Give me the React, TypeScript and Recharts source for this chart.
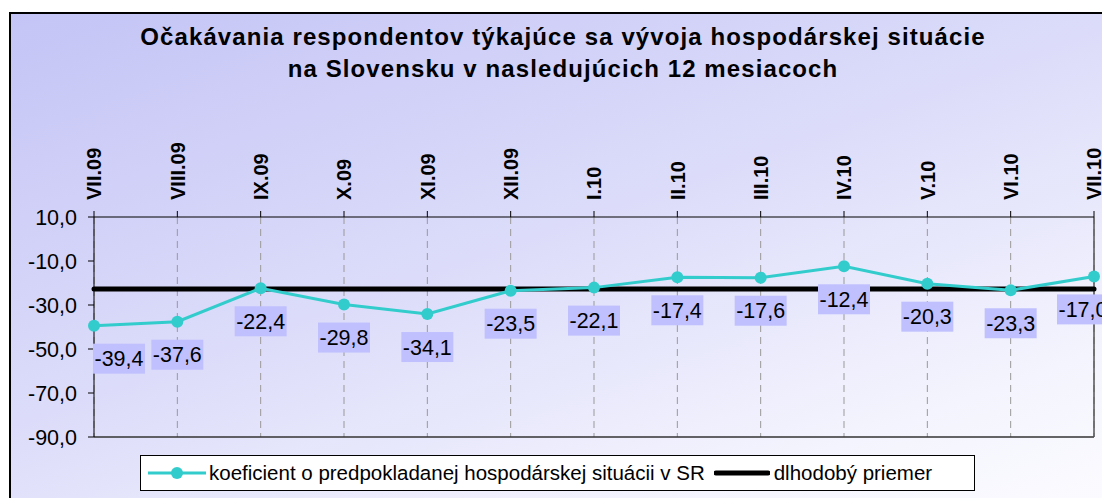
import { CartesianGrid, LabelList, Line, LineChart, ReferenceLine, XAxis, YAxis } from "recharts";

const FONT = "'Liberation Sans', Arial, sans-serif";
const TEAL = "#33cccc";

// mesiace (kategórie osi X)
const MONTHS = ["VII.09", "VIII.09", "IX.09", "X.09", "XI.09", "XII.09", "I.10", "II.10", "III.10", "IV.10", "V.10", "VI.10", "VII.10"];
// koeficient o predpokladanej hospodárskej situácii v SR
const COEF = [-39.4, -37.6, -22.4, -29.8, -34.1, -23.5, -22.1, -17.4, -17.6, -12.4, -20.3, -23.3, -17.0];
// dlhodobý priemer
const LONG_TERM_AVG = -22.7;
const Y_TICKS = [10, -10, -30, -50, -70, -90];

const data = MONTHS.map((month, i) => ({ month, koef: COEF[i] }));

const fmt = (v: number) => v.toFixed(1).replace(".", ",");

function MonthTick({ x, y, payload }: any) {
  return (
    <text
      x={x}
      y={y}
      transform={`rotate(-90 ${x} ${y})`}
      textAnchor="start"
      dy="0.36em"
      fontSize={20}
      fontWeight="bold"
      fontFamily={FONT}
      fill="#000"
    >
      {payload.value}
    </text>
  );
}

function ValueLabel({ x, y, value }: any) {
  const w = 52;
  const h = 30;
  const left = Math.min(Math.max(x - w / 2, 93), 1057);
  const top = y + 18;
  return (
    <g>
      <rect x={left} y={top} width={w} height={h} fill="#c0c0ff" />
      <text x={left + w / 2} y={top + h / 2} dy="0.36em" textAnchor="middle" fontSize={21.5} fontFamily={FONT} fill="#000">
        {fmt(value)}
      </text>
    </g>
  );
}

export default function App() {
  return (
    <div style={{ position: "absolute", left: 0, top: 0, width: 1102, height: 498, overflow: "hidden", background: "#fff", fontFamily: FONT }}>
      <div
        style={{
          position: "absolute",
          left: 9,
          top: 12,
          width: 1130,
          height: 510,
          border: "2px solid #000",
          boxSizing: "border-box",
          background: "linear-gradient(160deg, #c4c4f6 0%, #dcdcfa 45%, #f4f4fe 80%, #fcfcff 100%)",
        }}
      />
      <div
        style={{
          position: "absolute",
          left: 0,
          top: 21,
          width: 1126,
          textAlign: "center",
          fontSize: 24,
          fontWeight: "bold",
          letterSpacing: 1.1,
          lineHeight: "32px",
          color: "#000",
        }}
      >
        Očakávania respondentov týkajúce sa vývoja hospodárskej situácie
        <br />
        na Slovensku v nasledujúcich 12 mesiacoch
      </div>

      <div style={{ position: "absolute", left: 0, top: 0 }}>
        <LineChart width={1102} height={498} data={data} margin={{ top: 177, right: 8, bottom: 61, left: 34 }}>
          <CartesianGrid horizontal={false} stroke="#999" strokeDasharray="7 5" />
          <XAxis
            dataKey="month"
            orientation="top"
            scale="point"
            padding={{ left: 0, right: 0 }}
            height={40}
            interval={0}
            tickSize={6}
            tickMargin={11}
            stroke="#000"
            tick={<MonthTick />}
          />
          <YAxis
            domain={[-90, 10]}
            ticks={Y_TICKS}
            width={60}
            tickSize={6}
            tickMargin={11}
            stroke="#000"
            tickFormatter={fmt}
            tick={{ fontSize: 21.5, fill: "#000", fontFamily: FONT }}
          />
          <ReferenceLine y={-90} stroke="#333" strokeWidth={1.5} />
          <ReferenceLine x="VII.10" stroke="#555" strokeWidth={1.5} />
          <ReferenceLine y={LONG_TERM_AVG} stroke="#000" strokeWidth={5} strokeLinecap="round" />
          <Line
            dataKey="koef"
            stroke={TEAL}
            strokeWidth={3}
            dot={{ r: 6, fill: TEAL, stroke: TEAL, strokeWidth: 0 }}
            isAnimationActive={false}
          >
            <LabelList dataKey="koef" content={<ValueLabel />} />
          </Line>
        </LineChart>
      </div>

      <div
        style={{
          position: "absolute",
          left: 140,
          top: 455,
          width: 835,
          height: 36,
          boxSizing: "border-box",
          border: "1px solid #000",
          background: "#fff",
          display: "flex",
          alignItems: "center",
          fontSize: 20.5,
          color: "#000",
          whiteSpace: "nowrap",
        }}
      >
        <svg width={58} height={14} style={{ marginLeft: 7 }}>
          <line x1={0} y1={7} x2={58} y2={7} stroke={TEAL} strokeWidth={3} />
          <circle cx={29} cy={7} r={6} fill={TEAL} />
        </svg>
        <span style={{ marginLeft: 3 }}>koeficient o predpokladanej hospodárskej situácii v SR</span>
        <svg width={56} height={14} style={{ marginLeft: 9 }}>
          <line x1={2} y1={7} x2={54} y2={7} stroke="#000" strokeWidth={5} strokeLinecap="round" />
        </svg>
        <span style={{ marginLeft: 4 }}>dlhodobý priemer</span>
      </div>
    </div>
  );
}
